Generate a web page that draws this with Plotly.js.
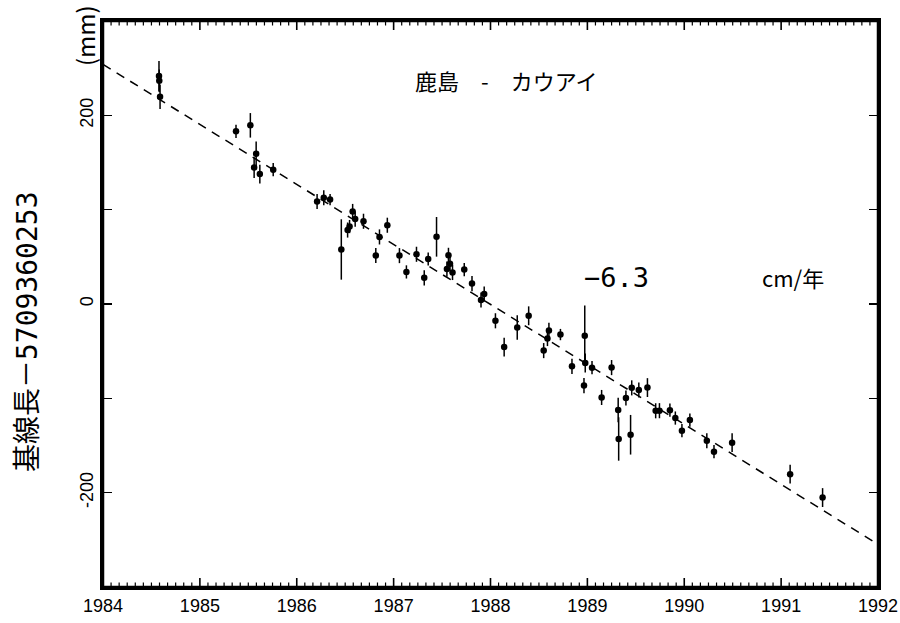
<!DOCTYPE html>
<html>
<head>
<meta charset="utf-8">
<script src="https://cdn.plot.ly/plotly-3.0.1.min.js"></script>
<style>html,body{margin:0;padding:0;background:#fff;}#chart{width:900px;height:623px;}</style>
</head>
<body>
<div id="chart"></div>
<script>
// Observation epochs (decimal years)
const YEARS = [1984.578,1984.581,1984.589,1985.373,1985.521,1985.581,1985.560,1985.619,1985.757,
  1986.210,1986.279,1986.344,1986.460,1986.525,1986.545,1986.577,1986.603,1986.689,1986.816,1986.854,1986.935,
  1987.060,1987.132,1987.236,1987.316,1987.357,1987.443,1987.566,1987.582,1987.550,1987.608,1987.729,1987.809,1987.935,1987.902,
  1988.051,1988.141,1988.276,1988.394,1988.603,1988.588,1988.549,1988.722,1988.841,1988.973,1988.978,1988.965,
  1989.048,1989.250,1989.147,1989.318,1989.323,1989.446,1989.398,1989.458,1989.531,1989.620,1989.705,1989.744,1989.852,1989.908,1989.976,
  1990.058,1990.233,1990.307,1990.494,1991.093,1991.428];
// Baseline length minus 5709360253 (mm)
const LENGTHS = [241.6,236.6,219.6,183.0,189.4,159.3,144.6,137.7,142.4,
  108.6,112.6,110.7,57.8,78.4,82.1,98.1,90.0,87.7,51.4,71.1,83.5,
  51.3,34.0,52.7,27.7,47.7,71.2,51.6,42.8,37.0,33.4,36.5,21.6,10.6,4.2,
  -17.8,-45.7,-24.8,-12.5,-28.0,-36.6,-49.4,-32.4,-66.1,-33.7,-62.6,-86.5,
  -67.5,-67.4,-99.1,-112.3,-143.1,-138.6,-99.7,-88.9,-91.2,-88.6,-113.2,-113.1,-112.6,-120.9,-134.3,
  -123.0,-145.0,-156.5,-147.0,-180.4,-205.2];
// 1-sigma errors (mm)
const ERRORS = [16,12,13,7,13,13,11,10,7,
  8,8,6,32,8,7,8,8,8,8,8,8,
  8,7,8,8,7,21,8,8,8,8,7,8,8,8,
  8,10,13,10,8,8,8,6,8,32,10,8,
  7,8,8,13,23,21,8,8,8,10,8,8,7,7,7,
  7,8,7,10,10,10];
// Linear fit: value at 1984.0 and rate (mm/year)
const FIT_START_YEAR = 1984;
const FIT_END_YEAR = 1992;
const FIT_INTERCEPT = 254;
const FIT_SLOPE = -63.6;
const X_RANGE = [1984, 1992];
const X_TICKS = [1984,1985,1986,1987,1988,1989,1990,1991,1992];
const Y_TICKS = [-200,-100,0,100,200];
const Y_TICK_TEXT = ['-200','','0','','200'];
// monthly minor tick positions
const MONTH_TICKS = Array.from({length: 97}, (_, i) => FIT_START_YEAR + i / 12)
  .filter(v => !X_TICKS.some(t => Math.abs(t - v) < 1e-6));

const fitX = [FIT_START_YEAR, FIT_END_YEAR];
const fitY = fitX.map(x => FIT_INTERCEPT + FIT_SLOPE * (x - FIT_START_YEAR));

const ink = 'rgb(0,0,0)';
const data = [
  {x: fitX, y: fitY, type: 'scatter', mode: 'lines',
   line: {color: ink, width: 1.5, dash: '9px,7px'}, hoverinfo: 'skip'},
  {x: YEARS, y: LENGTHS, type: 'scatter', mode: 'markers',
   marker: {color: ink, size: 6.5, symbol: 'circle'},
   error_y: {type: 'data', array: ERRORS, visible: true, width: 0, thickness: 1.5, color: ink}}
];

// tick marks on top and bottom edges, placed through the x scale
const PLOT_H = 623 - 21 - 36;
const MAJOR_LEN = 9 / PLOT_H, MINOR_LEN = 4.5 / PLOT_H;
function tickShapes(vals, len, width) {
  const out = [];
  vals.forEach(v => {
    out.push({type: 'line', xref: 'x', yref: 'paper', x0: v, x1: v, y0: 0, y1: len,
              line: {color: ink, width: width}, layer: 'above'});
    out.push({type: 'line', xref: 'x', yref: 'paper', x0: v, x1: v, y0: 1, y1: 1 - len,
              line: {color: ink, width: width}, layer: 'above'});
  });
  return out;
}

const layout = {
  width: 900, height: 623,
  margin: {l: 103, r: 22, t: 21, b: 36},
  paper_bgcolor: '#fff', plot_bgcolor: '#fff',
  showlegend: false,
  xaxis: {
    range: X_RANGE, tickvals: X_TICKS, showline: true, linecolor: ink, linewidth: 3, mirror: true,
    ticks: '', showgrid: false, zeroline: false,
    tickfont: {family: 'Liberation Sans, Arial, sans-serif', size: 18, color: ink}
  },
  yaxis: {
    range: [-300, 300], tickvals: Y_TICKS, ticktext: Y_TICK_TEXT, tickangle: -90,
    showline: true, linecolor: ink, linewidth: 3, mirror: 'ticks',
    ticks: 'inside', ticklen: 9, tickwidth: 1.6, tickcolor: ink,
    showgrid: false, zeroline: false,
    tickfont: {family: 'Liberation Sans, Arial, sans-serif', size: 18, color: ink}
  },
  shapes: [
    {type: 'rect', xref: 'paper', yref: 'paper', x0: 0, x1: 1, y0: 0, y1: 1,
     line: {color: ink, width: 2.5}, fillcolor: 'rgba(0,0,0,0)', layer: 'above'}
  ].concat(tickShapes(X_TICKS, MAJOR_LEN, 1.6), tickShapes(MONTH_TICKS, MINOR_LEN, 1.2)),
  annotations: [
    {text: '鹿島　-　カウアイ', xref: 'paper', yref: 'paper', x: 0.520, y: 0.896,
     xanchor: 'center', yanchor: 'middle',
     showarrow: false, font: {family: 'Noto Sans CJK JP', size: 22, color: ink}},
    {text: '−6.3', xref: 'paper', yref: 'paper', x: 0.662, y: 0.546,
     xanchor: 'center', yanchor: 'middle',
     showarrow: false, font: {family: 'DejaVu Sans Mono, monospace', size: 27, color: ink}},
    {text: 'cm/年', xref: 'paper', yref: 'paper', x: 0.890, y: 0.548,
     xanchor: 'center', yanchor: 'middle',
     showarrow: false, font: {family: 'Noto Sans CJK JP', size: 22, color: ink}},
    {text: '基線長－<span style="font-family:DejaVu Sans Mono">5709360253</span>', xref: 'paper', yref: 'paper',
     x: -0.1006, y: 0.4505, xanchor: 'center', yanchor: 'middle', textangle: -90, showarrow: false,
     font: {family: 'Noto Sans CJK JP', size: 28, color: ink}},
    {text: '(mm)', xref: 'paper', yref: 'paper', x: -0.0232, y: 0.9735, textangle: -90,
     xanchor: 'center', yanchor: 'middle',
     showarrow: false, font: {family: 'Noto Sans CJK JP', size: 24, color: ink}}
  ]
};

Plotly.newPlot('chart', data, layout, {staticPlot: true, displayModeBar: false});
</script>
</body>
</html>
